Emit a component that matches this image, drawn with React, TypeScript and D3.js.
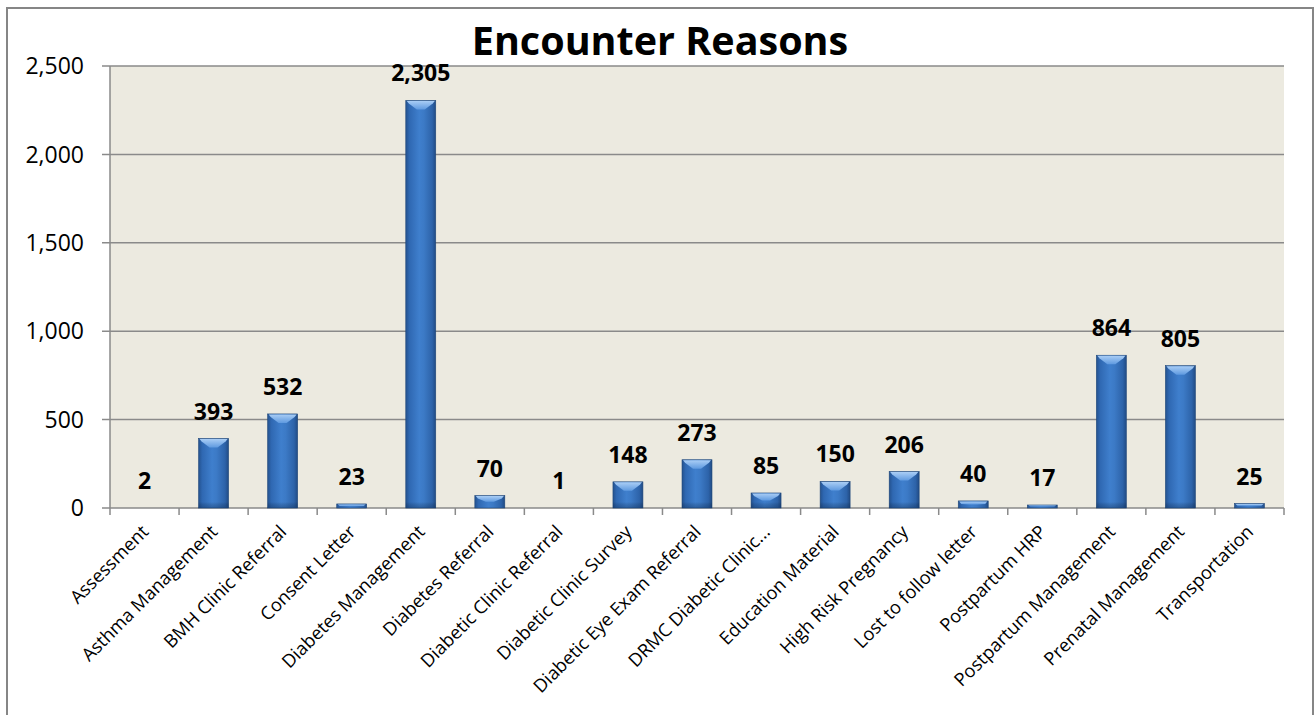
import React from "react";
import * as d3 from "d3";

const categories: string[] = [
  "Assessment",
  "Asthma Management",
  "BMH Clinic Referral",
  "Consent Letter",
  "Diabetes Management",
  "Diabetes Referral",
  "Diabetic Clinic Referral",
  "Diabetic Clinic Survey",
  "Diabetic Eye Exam Referral",
  "DRMC Diabetic Clinic...",
  "Education Material",
  "High Risk Pregnancy",
  "Lost to follow letter",
  "Postpartum HRP",
  "Postpartum Management",
  "Prenatal Management",
  "Transportation",
];

const values: number[] = [2, 393, 532, 23, 2305, 70, 1, 148, 273, 85, 150, 206, 40, 17, 864, 805, 25];

const yTicks: number[] = [0, 500, 1000, 1500, 2000, 2500];

const title = "Encounter Reasons";

const W = 1315;
const H = 715;
const plot = { left: 110, right: 1284, top: 66, bottom: 508 };
const FONT = "'Open Sans', 'DejaVu Sans', sans-serif";

export default function App() {
  const bandAll = d3
    .scaleBand<string>()
    .domain(categories)
    .range([plot.left, plot.right])
    .padding(0);
  const x = d3
    .scaleBand<string>()
    .domain(categories)
    .range([plot.left, plot.right])
    .paddingInner(0.566)
    .paddingOuter(0.283);
  const y = d3.scaleLinear().domain([0, 2500]).range([plot.bottom, plot.top]);
  const fmt = d3.format(",");
  const bw = x.bandwidth();
  const step = bandAll.step();

  const tickXs = d3.range(categories.length + 1).map((i) => plot.left + i * step);

  return (
    <svg
      width={W}
      height={H}
      style={{ position: "absolute", left: 0, top: 0, background: "#fff" }}
      fontFamily={FONT}
    >
      <defs>
        <linearGradient id="barGrad" x1="0" x2="1" y1="0" y2="0">
          <stop offset="0%" stopColor="#24528f" />
          <stop offset="12%" stopColor="#2f68b2" />
          <stop offset="45%" stopColor="#3f7fcd" />
          <stop offset="60%" stopColor="#3c7ac6" />
          <stop offset="88%" stopColor="#2d63a9" />
          <stop offset="100%" stopColor="#214b84" />
        </linearGradient>
        <linearGradient id="capGrad" x1="0" x2="0" y1="0" y2="1">
          <stop offset="0%" stopColor="#a9cdf5" />
          <stop offset="100%" stopColor="#5f9ae0" />
        </linearGradient>
        <linearGradient id="bottomGrad" x1="0" x2="0" y1="0" y2="1">
          <stop offset="0%" stopColor="#000" stopOpacity="0" />
          <stop offset="100%" stopColor="#0a2a55" stopOpacity="0.35" />
        </linearGradient>
      </defs>

      {/* outer border */}
      <rect x={7} y={8} width={1306} height={730} fill="#fff" stroke="#868686" strokeWidth={2} />

      {/* title */}
      <text x={660} y={55} textAnchor="middle" fontSize={39.5} fontWeight={700} fill="#000">
        {title}
      </text>

      {/* plot background */}
      <rect
        x={plot.left}
        y={plot.top}
        width={plot.right - plot.left}
        height={plot.bottom - plot.top}
        fill="#ECEAE0"
      />

      {/* gridlines + y ticks */}
      {yTicks.map((t) => (
        <g key={t}>
          <line x1={102} x2={plot.right} y1={y(t)} y2={y(t)} stroke="#8a8a8a" strokeWidth={1.5} />
          <text x={84} y={y(t)} dy="0.36em" textAnchor="end" fontSize={23} fill="#000">
            {fmt(t)}
          </text>
        </g>
      ))}

      {/* y axis line */}
      <line x1={plot.left} x2={plot.left} y1={plot.top} y2={plot.bottom} stroke="#8a8a8a" strokeWidth={1.5} />

      {/* x ticks */}
      {tickXs.map((tx, i) => (
        <line key={i} x1={tx} x2={tx} y1={plot.bottom} y2={plot.bottom + 7} stroke="#8a8a8a" strokeWidth={1.5} />
      ))}

      {/* bars */}
      {categories.map((c, i) => {
        const v = values[i];
        const x0 = x(c) as number;
        const yt = y(v);
        const h = plot.bottom - yt;
        const xc = x0 + bw / 2;
        const capH = Math.min(9, h * 0.5);
        return (
          <g key={c}>
            {h > 0.5 && (
              <>
                <rect x={x0} y={yt} width={bw} height={h} fill="url(#barGrad)" stroke="#1f4779" strokeWidth={0.6} />
                {h > 14 && (
                  <rect x={x0} y={plot.bottom - 6} width={bw} height={6} fill="url(#bottomGrad)" />
                )}
                <polygon
                  points={[
                    [x0 + 1, yt + 0.5],
                    [x0 + bw - 1, yt + 0.5],
                    [x0 + bw - 3, yt + Math.min(3, capH)],
                    [xc + 4, yt + capH],
                    [xc - 4, yt + capH],
                    [x0 + 3, yt + Math.min(3, capH)],
                  ]
                    .map((p) => p.join(","))
                    .join(" ")}
                  fill="url(#capGrad)"
                />
              </>
            )}
            <text x={xc} y={yt - 19} textAnchor="middle" fontSize={23} fontWeight={700} fill="#000">
              {fmt(v)}
            </text>
          </g>
        );
      })}

      {/* x labels */}
      {categories.map((c) => {
        const xc = (x(c) as number) + bw / 2;
        return (
          <text
            key={c}
            transform={`translate(${xc + 5},${plot.bottom + 25}) rotate(-45)`}
            textAnchor="end"
            fontSize={18.3}
            fill="#000"
          >
            {c}
          </text>
        );
      })}
    </svg>
  );
}
